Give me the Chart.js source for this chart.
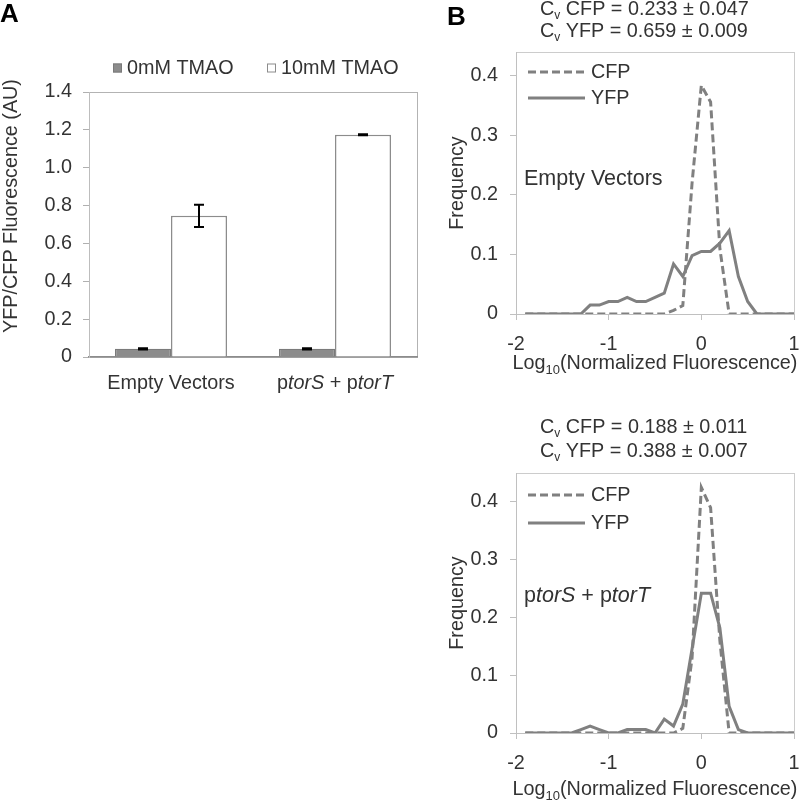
<!DOCTYPE html>
<html><head><meta charset="utf-8">
<script src="https://cdn.jsdelivr.net/npm/chart.js@4"></script>
<style>
html,body{margin:0;padding:0;background:#fff;width:800px;height:801px;overflow:hidden;position:relative}
canvas{position:absolute}
</style>
</head><body>
<canvas id="cA" width="420" height="400" style="left:0;top:0"></canvas>
<canvas id="cB1" width="380" height="400" style="left:420px;top:0"></canvas>
<canvas id="cB2" width="380" height="401" style="left:420px;top:400px"></canvas>
<script>
// ---------- DATA ----------
const categories = ['Empty Vectors', 'p<i>torS</i> + p<i>torT</i>'];
const tmao0 = [0.043, 0.043];
const tmao0Err = [0.003, 0.003];
const tmao10 = [0.746, 1.174];
const tmao10Err = [0.059, 0.003];

const bins = [-1.9,-1.8,-1.7,-1.6,-1.5,-1.4,-1.3,-1.2,-1.1,-1.0,-0.9,-0.8,-0.7,-0.6,-0.5,-0.4,-0.3,-0.2,-0.1,0,0.1,0.2,0.3,0.4,0.5,0.6,0.7,0.8,0.9,1.0];
const cfpEmpty = [0,0,0,0,0,0,0,0,0,0,0,0,0,0,0,0,0.006,0.014,0.22,0.384,0.356,0.11,0,0,0,0,0,0,0,0];
const yfpEmpty = [0,0,0,0,0,0,0,0.015,0.015,0.021,0.021,0.028,0.021,0.021,0.028,0.035,0.084,0.063,0.098,0.105,0.105,0.119,0.14,0.063,0.021,0,0,0,0,0];
const cfpTor = [0,0,0,0,0,0,0,0,0,0,0,0,0,0,0,0,0,0.008,0.13,0.425,0.39,0.16,0,0,0,0,0,0,0,0];
const yfpTor = [0,0,0,0,0,0,0.006,0.012,0.006,0,0,0.006,0.006,0.006,0,0.024,0.012,0.05,0.146,0.242,0.242,0.182,0.046,0.006,0,0,0,0,0,0];

const cvEmpty = ['0.233 \u00b1 0.047', '0.659 \u00b1 0.009'];
const cvTor = ['0.188 \u00b1 0.011', '0.388 \u00b1 0.007'];

// ---------- STYLE ----------
const FAM = '"Liberation Sans", Arial, sans-serif';
const TXT = '#333333';
const FS = 19.8;
const F = (size, style) => (style || '') + ' ' + size + 'px ' + FAM;
const LINE = '#808080';

// ---------- PLUGINS ----------
const framePlugin = {
  id: 'frame',
  beforeDraw(chart, args, o) {
    if (!o || !o.color) return;
    const a = chart.chartArea, ctx = chart.ctx;
    ctx.save(); ctx.strokeStyle = o.color; ctx.lineWidth = 1;
    ctx.strokeRect(Math.round(a.left) + 0.5, Math.round(a.top) + 0.5, Math.round(a.right - a.left), Math.round(a.bottom - a.top));
    ctx.restore();
  }
};
const errorBarPlugin = {
  id: 'errorBars',
  afterDatasetsDraw(chart, args, o) {
    const ctx = chart.ctx, y = chart.scales.y;
    chart.data.datasets.forEach((ds, di) => {
      if (!ds.errors) return;
      chart.getDatasetMeta(di).data.forEach((bar, i) => {
        const v = ds.data[i], e = ds.errors[i];
        const yt = y.getPixelForValue(v + e), yb = y.getPixelForValue(v - e);
        ctx.save(); ctx.strokeStyle = o.color; ctx.lineWidth = o.width;
        ctx.beginPath();
        ctx.moveTo(bar.x, yt); ctx.lineTo(bar.x, yb);
        ctx.moveTo(bar.x - o.cap, yt); ctx.lineTo(bar.x + o.cap, yt);
        ctx.moveTo(bar.x - o.cap, yb); ctx.lineTo(bar.x + o.cap, yb);
        ctx.stroke(); ctx.restore();
      });
    });
  }
};
function parseRich(str, size) {
  const parts = [];
  str.split(/(<i>.*?<\/i>)/).forEach(s => {
    if (!s) return;
    if (s.startsWith('<i>')) parts.push({text: s.slice(3, -4), font: F(size, 'italic')});
    else parts.push({text: s, font: F(size)});
  });
  return parts;
}
function drawParts(ctx, parts, x, y, align, baseline, color, rotate) {
  ctx.save();
  ctx.fillStyle = color; ctx.translate(x, y);
  if (rotate) ctx.rotate(rotate);
  ctx.textAlign = 'left'; ctx.textBaseline = baseline || 'alphabetic';
  let total = 0;
  parts.forEach(p => { ctx.font = p.font; total += ctx.measureText(p.text).width; });
  let cx = align === 'center' ? -total / 2 : 0;
  parts.forEach(p => { ctx.font = p.font; ctx.fillText(p.text, cx, p.dy || 0); cx += ctx.measureText(p.text).width; });
  ctx.restore();
}
const richTextPlugin = {
  id: 'richText',
  afterDraw(chart, args, o) {
    (o.items || []).forEach(it => {
      let x = it.x;
      if (it.centerOnArea) x = (chart.chartArea.left + chart.chartArea.right) / 2;
      drawParts(chart.ctx, it.parts, x, it.y, it.align, it.baseline, it.color || TXT, it.rotate);
    });
  }
};
const catLabelPlugin = {
  id: 'catLabels',
  afterDraw(chart, args, o) {
    if (!o || !o.size) return;
    const xs = chart.scales.x;
    chart.data.labels.forEach((lab, i) => {
      drawParts(chart.ctx, parseRich(lab, o.size), xs.getPixelForValue(i), o.y, 'center', 'alphabetic', TXT);
    });
  }
};
const boxLegendPlugin = {
  id: 'boxLegend',
  afterDraw(chart, args, o) {
    if (!o || !o.xs) return;
    const ctx = chart.ctx;
    chart.data.datasets.forEach((ds, i) => {
      const x = o.xs[i];
      ctx.save();
      ctx.fillStyle = ds.backgroundColor; ctx.strokeStyle = ds.borderColor; ctx.lineWidth = 1;
      ctx.fillRect(x, o.y - o.size / 2, o.size, o.size);
      ctx.strokeRect(x + 0.5, o.y - o.size / 2 + 0.5, o.size - 1, o.size - 1);
      ctx.fillStyle = TXT; ctx.font = o.font; ctx.textBaseline = 'middle';
      ctx.fillText(ds.label, x + o.size + o.gap, o.y + 1);
      ctx.restore();
    });
  }
};
const lineLegendPlugin = {
  id: 'lineLegend',
  afterDraw(chart, args, o) {
    if (!o || !o.length) return;
    const ctx = chart.ctx;
    chart.data.datasets.forEach((ds, i) => {
      const y = o.y + i * o.gap;
      ctx.save();
      ctx.strokeStyle = ds.borderColor; ctx.lineWidth = ds.borderWidth;
      ctx.setLineDash(ds.borderDash || []);
      ctx.beginPath(); ctx.moveTo(o.x, y); ctx.lineTo(o.x + o.length, y); ctx.stroke();
      ctx.setLineDash([]);
      ctx.fillStyle = TXT; ctx.font = o.font; ctx.textBaseline = 'middle';
      ctx.fillText(ds.label, o.x + o.length + o.pad, y + 1);
      ctx.restore();
    });
  }
};

// ---------- CHART A ----------
new Chart(document.getElementById('cA'), {
  type: 'bar',
  data: {
    labels: categories,
    datasets: [
      {label: '0mM TMAO', data: tmao0, errors: tmao0Err, backgroundColor: '#8c8c8c', borderColor: '#7a7a7a', borderWidth: 1.2},
      {label: '10mM TMAO', data: tmao10, errors: tmao10Err, backgroundColor: '#ffffff', borderColor: '#8c8c8c', borderWidth: 1.5}
    ]
  },
  plugins: [framePlugin, errorBarPlugin, richTextPlugin, catLabelPlugin, boxLegendPlugin],
  options: {
    responsive: false, animation: false, events: [],
    layout: {padding: {left: 0, top: 92, right: 3, bottom: 0}},
    datasets: {bar: {categoryPercentage: 0.683, barPercentage: 1}},
    plugins: {
      legend: {display: false}, tooltip: {enabled: false},
      frame: {color: '#b3b3b3'},
      errorBars: {color: '#000', width: 2, cap: 5},
      catLabels: {size: FS, y: 389},
      boxLegend: {xs: [113, 267], y: 68, size: 9, gap: 5, font: F(FS)},
      richText: {items: [
        {x: 0, y: 22, parts: [{text: 'A', font: F(26, 'bold')}], color: '#000'},
        {x: 12, y: 206, rotate: -Math.PI / 2, align: 'center', baseline: 'middle', parts: [{text: 'YFP/CFP Fluorescence (AU)', font: F(FS)}]}
      ]}
    },
    scales: {
      x: {
        grid: {display: true, drawOnChartArea: false, drawTicks: false},
        border: {color: '#8c8c8c', width: 1.5},
        ticks: {display: false},
        afterFit: s => { s.height = 43; s.paddingLeft = 0; s.paddingRight = 0; }
      },
      y: {
        min: 0, max: 1.4,
        ticks: {stepSize: 0.2, padding: 11, color: TXT, font: {family: FAM, size: FS}},
        grid: {drawOnChartArea: false, tickLength: 6, color: '#b0b0b0'},
        border: {color: '#bdbdbd'},
        afterFit: s => { s.width = 89; s.paddingTop = 0; s.paddingBottom = 0; }
      }
    }
  }
});

// ---------- CHARTS B ----------
function histChart(id, cfp, yfp, ymax, padTop, xHeight, xPad, cv, cvBase, label, labelBase, titleBase, legendY, legendGap, extra) {
  const items = [
    {x: 120, y: cvBase[0], parts: [{text: 'C', font: F(FS)}, {text: 'v', font: F(12), dy: 4}, {text: ' CFP = ' + cv[0], font: F(FS)}]},
    {x: 120, y: cvBase[1], parts: [{text: 'C', font: F(FS)}, {text: 'v', font: F(12), dy: 4}, {text: ' YFP = ' + cv[1], font: F(FS)}]},
    {x: 104, y: labelBase, parts: parseRich(label, 21.5)},
    {centerOnArea: true, y: titleBase, align: 'center', parts: [{text: 'Log', font: F(FS)}, {text: '10', font: F(13), dy: 5}, {text: '(Normalized Fluorescence)', font: F(FS)}]}
  ].concat(extra);
  return new Chart(document.getElementById(id), {
    type: 'line',
    data: {
      datasets: [
        {label: 'CFP', data: bins.map((x, i) => ({x: x, y: cfp[i]})), borderColor: LINE, borderWidth: 3, borderDash: [8, 4], pointRadius: 0, tension: 0, fill: false},
        {label: 'YFP', data: bins.map((x, i) => ({x: x, y: yfp[i]})), borderColor: LINE, borderWidth: 3, pointRadius: 0, tension: 0, fill: false}
      ]
    },
    plugins: [framePlugin, richTextPlugin, lineLegendPlugin],
    options: {
      responsive: false, animation: false, events: [],
      layout: {padding: {left: 0, top: padTop, right: 6, bottom: 0}},
      plugins: {
        legend: {display: false}, tooltip: {enabled: false},
        frame: {color: '#cccccc'},
        lineLegend: {x: 108, y: legendY, gap: legendGap, length: 57, pad: 6, font: F(FS)},
        richText: {items: items}
      },
      scales: {
        x: {
          type: 'linear', min: -2, max: 1,
          ticks: {stepSize: 1, padding: xPad, color: TXT, font: {family: FAM, size: FS}},
          grid: {drawOnChartArea: false, tickLength: 6, color: '#c0c0c0'},
          border: {color: '#c0c0c0'},
          afterFit: s => { s.height = xHeight; s.paddingLeft = 0; s.paddingRight = 0; }
        },
        y: {
          min: 0, max: ymax,
          ticks: {stepSize: 0.1, includeBounds: false, padding: 12, color: TXT, font: {family: FAM, size: FS}},
          grid: {drawOnChartArea: false, tickLength: 6, color: '#c0c0c0'},
          border: {color: '#c0c0c0'},
          title: {display: true, text: 'Frequency', color: TXT, font: {family: FAM, size: FS}, padding: {top: 26, bottom: 0}},
          afterFit: s => { s.width = 96; s.paddingTop = 0; s.paddingBottom = 0; }
        }
      }
    }
  });
}

histChart('cB1', cfpEmpty, yfpEmpty, 0.44, 52, 86, 13, cvEmpty, [15, 37], 'Empty Vectors', 185, 369, 72, 26,
  [{x: 27, y: 25, parts: [{text: 'B', font: F(26, 'bold')}], color: '#000'}]);
histChart('cB2', cfpTor, yfpTor, 0.45, 73, 68, 13, cvTor, [33, 57], 'p<i>torS</i> + p<i>torT</i>', 202, 395, 95, 28, []);
</script>
</body></html>
